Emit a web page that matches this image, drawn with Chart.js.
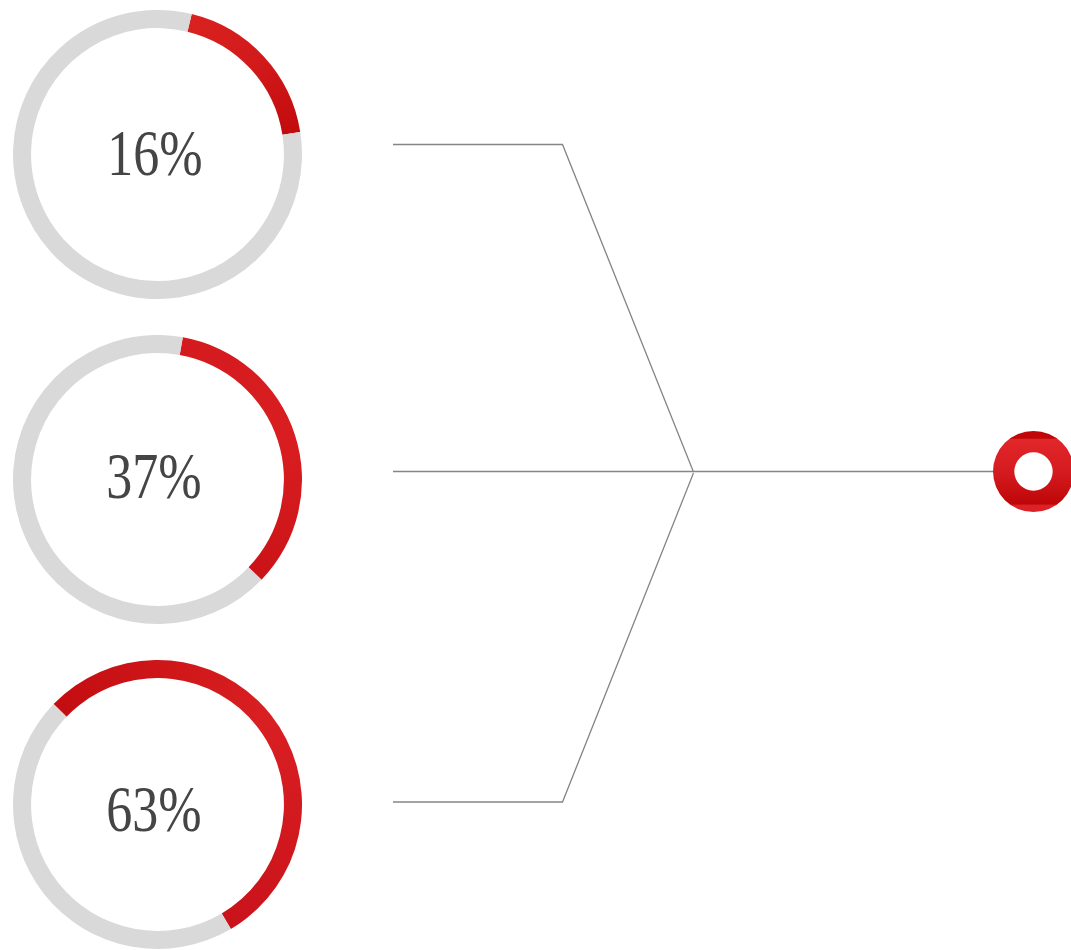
<!DOCTYPE html>
<html>
<head>
<meta charset="utf-8">
<script src="https://cdn.jsdelivr.net/npm/chart.js@4/dist/chart.umd.min.js"></script>
<style>
  html, body { margin: 0; padding: 0; background: #ffffff; }
  body { width: 1071px; height: 950px; position: relative; overflow: hidden; }
  .abs { position: absolute; }
  .pct {
    position: absolute;
    font-family: "Liberation Serif", "DejaVu Serif", serif;
    font-size: 52px;
    color: #454545;
    line-height: 1;
    white-space: nowrap;
    transform: translate(-50%, -50%) scaleY(1.24);
  }
</style>
</head>
<body>
<canvas id="lines" class="abs" width="1071" height="950" style="left:0;top:0;width:1071px;height:950px"></canvas>
<canvas id="d0" class="abs" width="289" height="289" style="left:13px;top:9.5px;width:289px;height:289px"></canvas>
<canvas id="d1" class="abs" width="289" height="289" style="left:13px;top:335px;width:289px;height:289px"></canvas>
<canvas id="d2" class="abs" width="289" height="289" style="left:13px;top:660px;width:289px;height:289px"></canvas>
<canvas id="ring" class="abs" width="81" height="81" style="left:993px;top:431px;width:81px;height:81px"></canvas>
<div id="t0" class="pct" style="left:155px;top:154px"></div>
<div id="t1" class="pct" style="left:154px;top:477px"></div>
<div id="t2" class="pct" style="left:154px;top:810px"></div>
<script>
// ---- data ----
const percentLabels = ["16%", "37%", "63%"];
// red arc share of the ring (percent of full circle, as drawn)
const arcShare = [18.7, 34.4, 54.3];
// angle (degrees clockwise from 12 o'clock) where the red arc begins
const arcStart = [13.7, 10.1, -46.0];
// connector polylines (diagram units = page pixels)
const connectorTop = [{x: 393, y: 144.5}, {x: 562.5, y: 144.5}, {x: 693.5, y: 472}];
const connectorMid = [{x: 393, y: 471.5}, {x: 1000, y: 471.5}];
const connectorBottom = [{x: 393, y: 802}, {x: 562.5, y: 802}, {x: 693.5, y: 473}];

const RED = "#d41b1f";
const GRAY = "#d9d9d9";
const LINE = "#858585";
// colour at arc start / middle / end
const arcShades = [
  ["#d9211f", "#d21a1b", "#c20b0c"],
  ["#d41a1e", "#d91e21", "#cb1317"],
  ["#c30d10", "#d91f22", "#c9121a"]
];

// ---- connectors ----
const lineDs = (pts) => ({
  data: pts, showLine: true, pointRadius: 0, borderColor: LINE,
  borderWidth: 1.3, fill: false, tension: 0
});
new Chart(document.getElementById("lines"), {
  type: "scatter",
  data: { datasets: [lineDs(connectorTop), lineDs(connectorMid), lineDs(connectorBottom)] },
  options: {
    responsive: false, animation: false, events: [],
    layout: { padding: 0 },
    plugins: { legend: { display: false }, tooltip: { enabled: false } },
    scales: {
      x: { type: "linear", min: 0, max: 1071, display: false },
      y: { type: "linear", min: 0, max: 950, reverse: true, display: false }
    }
  }
});

// ---- doughnuts ----
arcShare.forEach((share, i) => {
  new Chart(document.getElementById("d" + i), {
    type: "doughnut",
    data: {
      labels: ["value", "rest"],
      datasets: [{
        data: [share, 100 - share],
        backgroundColor: (ctx) => {
          if (ctx.dataIndex !== 0) return GRAY;
          const area = ctx.chart.chartArea;
          const c = ctx.chart.ctx;
          if (!area || !c.createConicGradient) return RED;
          const cx = (area.left + area.right) / 2, cy = (area.top + area.bottom) / 2;
          const g = c.createConicGradient((arcStart[i] - 90) * Math.PI / 180, cx, cy);
          const f = share / 100;
          g.addColorStop(0, arcShades[i][0]);
          g.addColorStop(f / 2, arcShades[i][1]);
          g.addColorStop(f, arcShades[i][2]);
          g.addColorStop(1, arcShades[i][2]);
          return g;
        },
        borderWidth: 0, hoverOffset: 0
      }]
    },
    options: {
      responsive: false, animation: false, events: [],
      rotation: arcStart[i], cutout: "87.5%",
      layout: { padding: 0 },
      plugins: { legend: { display: false }, tooltip: { enabled: false } }
    }
  });
  document.getElementById("t" + i).textContent = percentLabels[i];
});

// ---- end marker ring ----
new Chart(document.getElementById("ring"), {
  type: "doughnut",
  data: {
    labels: ["marker"],
    datasets: [{
      data: [1],
      borderWidth: 0, hoverOffset: 0,
      backgroundColor: (ctx) => {
        const area = ctx.chart.chartArea;
        if (!area) return RED;
        const g = ctx.chart.ctx.createLinearGradient(0, area.top, 0, area.bottom);
        g.addColorStop(0, "#c00608");
        g.addColorStop(0.09, "#c00608");
        g.addColorStop(0.1, "#e2272b");
        g.addColorStop(0.5, "#d51b1f");
        g.addColorStop(0.88, "#bf0709");
        g.addColorStop(0.9, "#bf0709");
        g.addColorStop(0.92, "#dc2226");
        g.addColorStop(1, "#dc2226");
        return g;
      }
    }]
  },
  options: {
    responsive: false, animation: false, events: [],
    cutout: "47.4%",
    layout: { padding: 0 },
    plugins: { legend: { display: false }, tooltip: { enabled: false } }
  }
});
</script>
</body>
</html>
